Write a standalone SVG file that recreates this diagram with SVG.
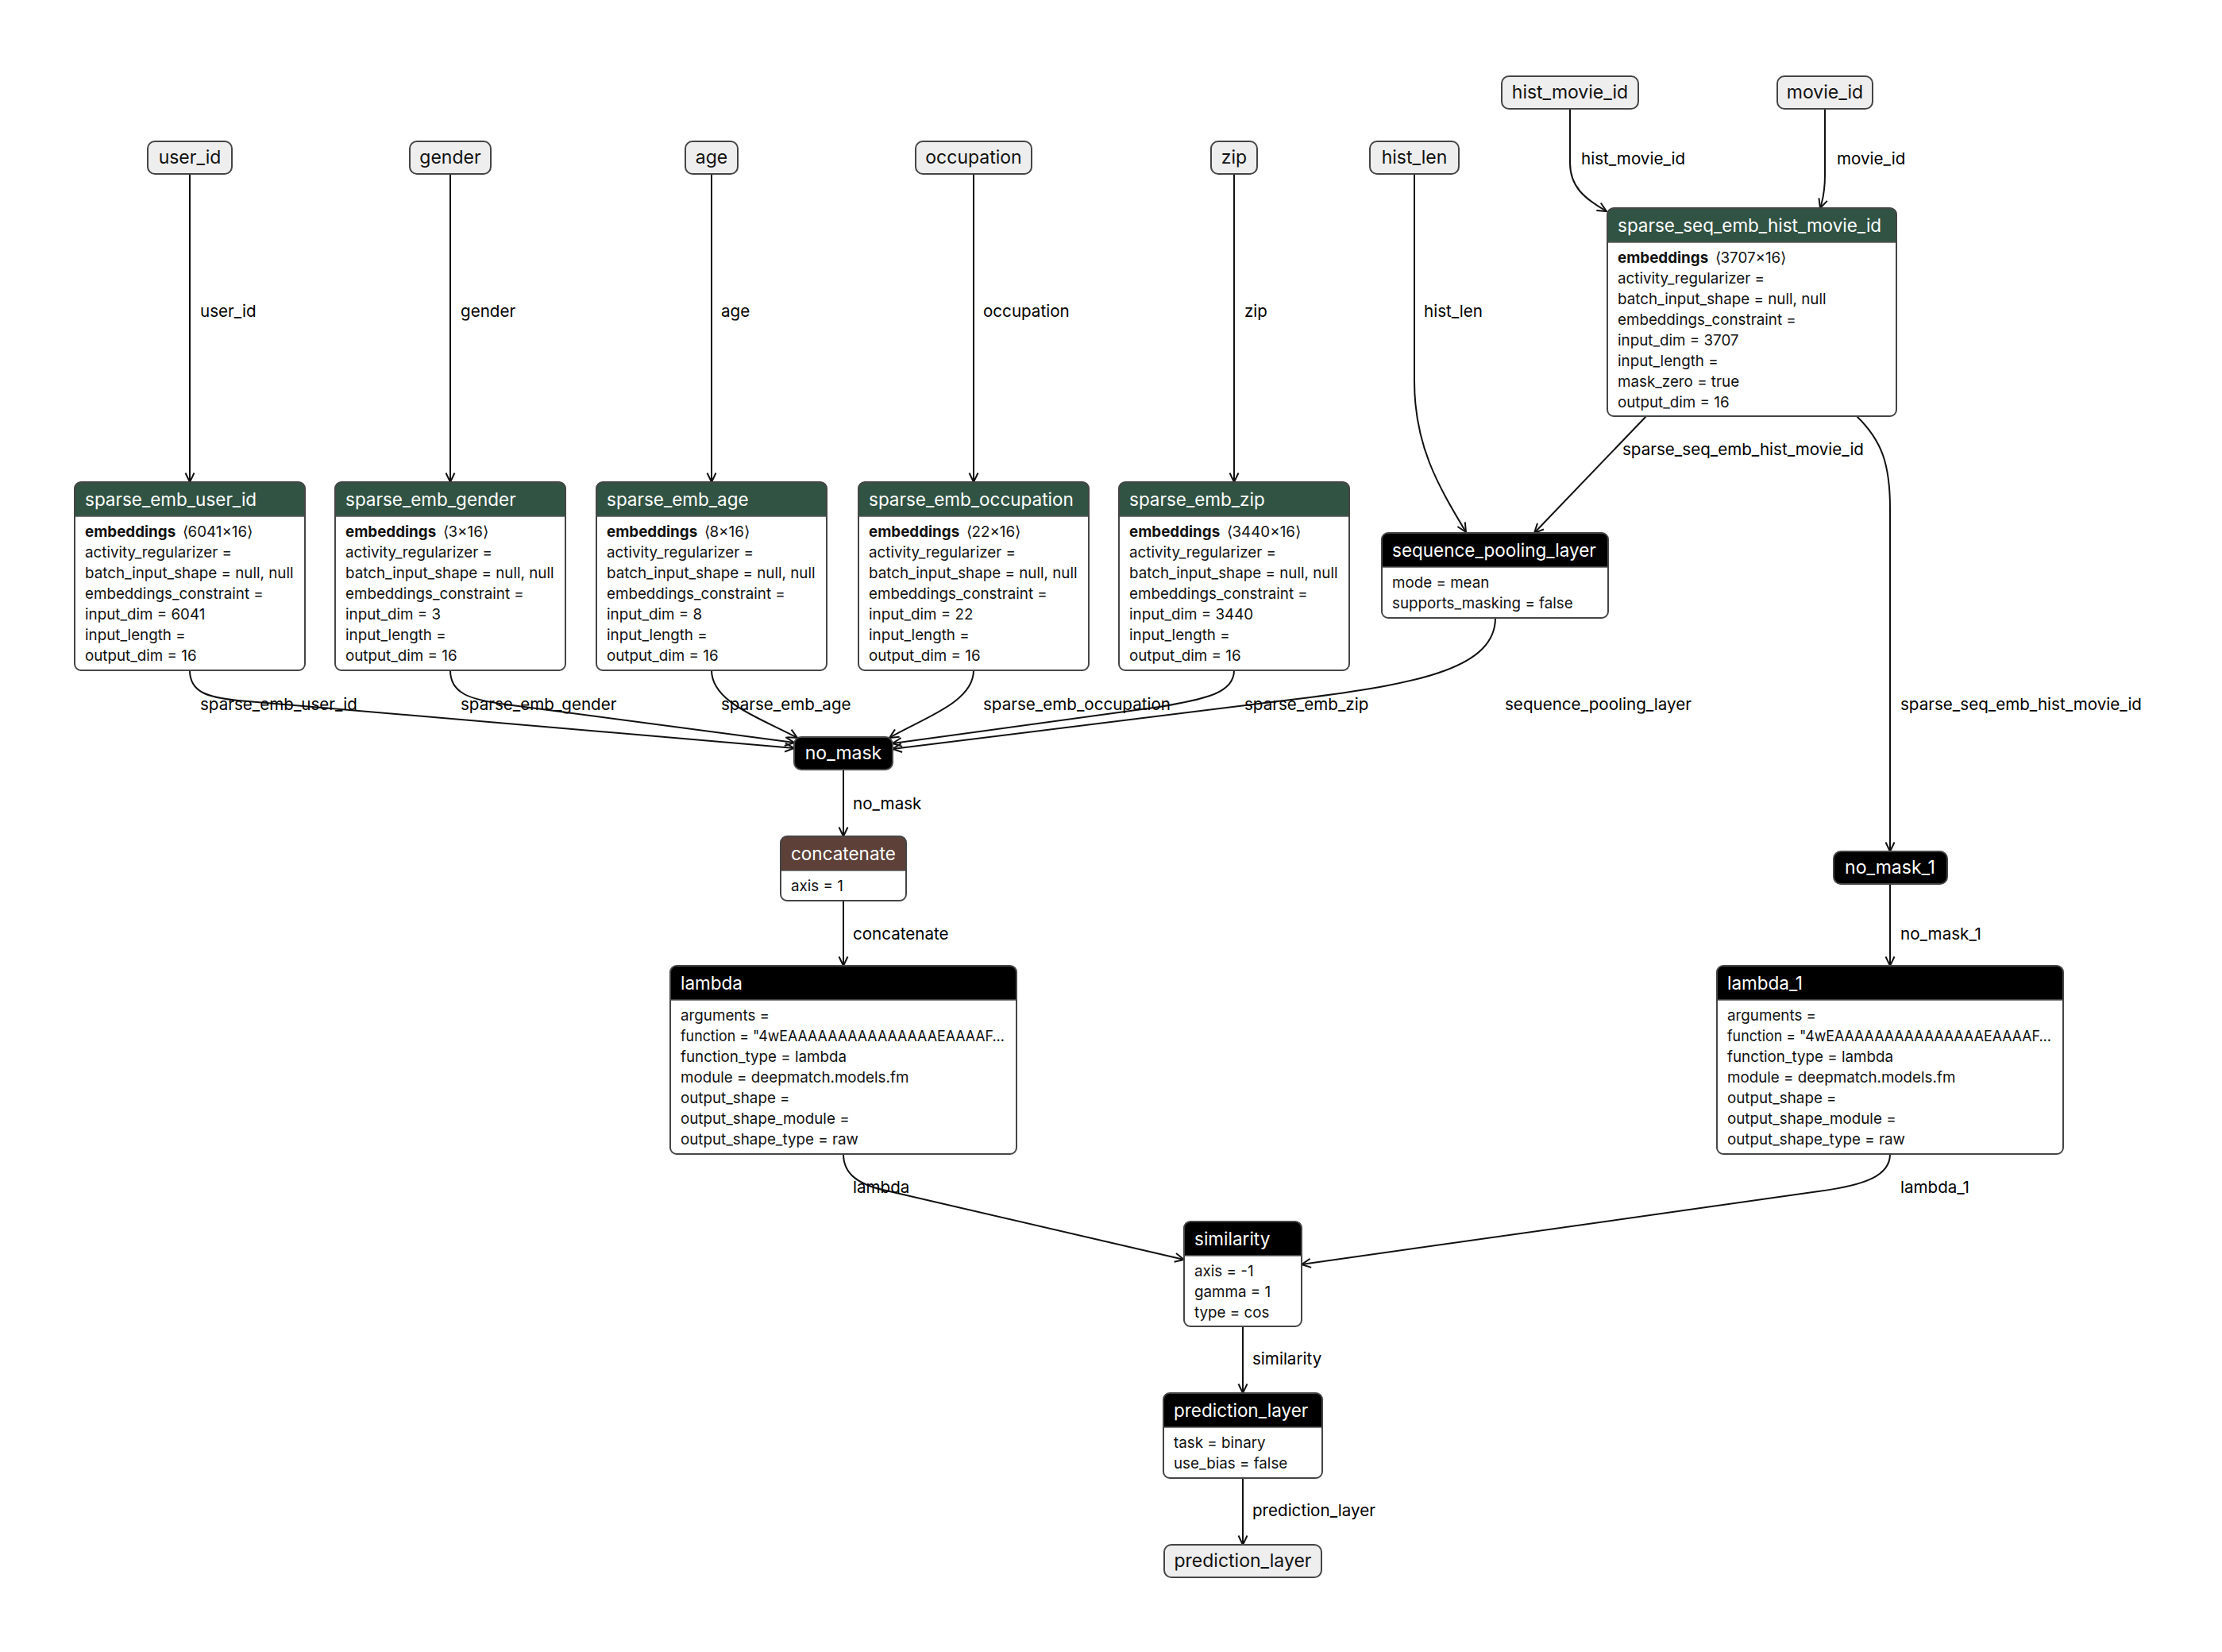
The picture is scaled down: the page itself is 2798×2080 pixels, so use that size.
<svg xmlns="http://www.w3.org/2000/svg" width="2798" height="2080" viewBox="0 0 2798 2080">
<defs>
<style>
text{font-family:Inter,"Liberation Sans",sans-serif}
.box{fill:#fff;stroke:none}
.frame{fill:none;stroke:#454545;stroke-width:2}
.sep{stroke:#555;stroke-width:1.5}
.pill{fill:#eeeeee;stroke:#454545;stroke-width:2}
.bpill{fill:#000;stroke:#454545;stroke-width:2}
.hg{fill:#315343}
.hk{fill:#000}
.hb{fill:#5d4037}
.ht{font-size:22.5px;fill:#fff}
.bt{font-size:18.8px;fill:#111}
.b{font-weight:bold}
.pt{font-size:23px;fill:#111;text-anchor:middle}
.wt{font-size:23px;fill:#fff;text-anchor:middle}
.el{font-size:20.6px;fill:#000}
.edge{fill:none;stroke:#111;stroke-width:2;marker-end:url(#arr)}
</style>
<marker id="arr" viewBox="0 0 14 14" refX="13" refY="7" markerWidth="14" markerHeight="14" markerUnits="userSpaceOnUse" orient="auto">
<path d="M1.5,1.5 L13,7 L1.5,12.5" fill="none" stroke="#111" stroke-width="2"/>
</marker>
</defs>
<rect width="2798" height="2080" fill="#fff"/>

<g id="edges">
<path class="edge" d="M239,219 V607"/>
<path class="edge" d="M567,219 V607"/>
<path class="edge" d="M896,219 V607"/>
<path class="edge" d="M1226,219 V607"/>
<path class="edge" d="M1554,219 V607"/>
<path class="edge" d="M1781,219 V480 C1781,560 1810,610 1846,670"/>
<path class="edge" d="M1977,137 V205 C1977,235 1995,250 2023,266"/>
<path class="edge" d="M2298,137 V220 C2298,240 2296,250 2292,262"/>
<path class="edge" d="M2073,524 L1932,671"/>
<path class="edge" d="M2338,524 C2370,555 2380,585 2380,640 V1072"/>
<path class="edge" d="M239,844 C239,872 262,878 300,882 L1000,942"/>
<path class="edge" d="M567,844 C567,872 590,880 630,886 L1000,935"/>
<path class="edge" d="M896,844 C896,885 960,905 1004,929"/>
<path class="edge" d="M1226,844 C1226,885 1160,905 1120,929"/>
<path class="edge" d="M1554,844 C1554,872 1520,880 1460,890 L1124,936"/>
<path class="edge" d="M1883,778 C1883,840 1790,860 1650,878 L1124,943"/>
<path class="edge" d="M1062,969 V1053"/>
<path class="edge" d="M1062,1134 V1216"/>
<path class="edge" d="M1062,1453 C1062,1478 1080,1492 1120,1500 L1491,1586"/>
<path class="edge" d="M2380,1113 V1216"/>
<path class="edge" d="M2380,1453 C2380,1480 2350,1492 2290,1500 L1639,1592"/>
<path class="edge" d="M1565,1670 V1754"/>
<path class="edge" d="M1565,1861 V1945"/>
</g>

<g id="edge-labels">
<text class="el" x="252" y="399">user_id</text>
<text class="el" x="580" y="399">gender</text>
<text class="el" x="908" y="399">age</text>
<text class="el" x="1238" y="399">occupation</text>
<text class="el" x="1567" y="399">zip</text>
<text class="el" x="1793" y="399">hist_len</text>
<text class="el" x="1991" y="207">hist_movie_id</text>
<text class="el" x="2313" y="207">movie_id</text>
<text class="el" x="2043" y="573">sparse_seq_emb_hist_movie_id</text>
<text class="el" x="252" y="894">sparse_emb_user_id</text>
<text class="el" x="580" y="894">sparse_emb_gender</text>
<text class="el" x="908" y="894">sparse_emb_age</text>
<text class="el" x="1238" y="894">sparse_emb_occupation</text>
<text class="el" x="1567" y="894">sparse_emb_zip</text>
<text class="el" x="1895" y="894">sequence_pooling_layer</text>
<text class="el" x="2393" y="894">sparse_seq_emb_hist_movie_id</text>
<text class="el" x="1074" y="1019">no_mask</text>
<text class="el" x="1074" y="1183">concatenate</text>
<text class="el" x="1074" y="1502">lambda</text>
<text class="el" x="2393" y="1183">no_mask_1</text>
<text class="el" x="2393" y="1502">lambda_1</text>
<text class="el" x="1577" y="1718">similarity</text>
<text class="el" x="1577" y="1909">prediction_layer</text>
</g>

<g id="in_user_id"><rect class="pill" x="186" y="178" width="106" height="41" rx="9"/><text class="pt" x="239" y="206">user_id</text></g>
<g id="in_gender"><rect class="pill" x="516" y="178" width="102" height="41" rx="9"/><text class="pt" x="567" y="206">gender</text></g>
<g id="in_age"><rect class="pill" x="863" y="178" width="66" height="41" rx="9"/><text class="pt" x="896" y="206">age</text></g>
<g id="in_occupation"><rect class="pill" x="1153" y="178" width="146" height="41" rx="9"/><text class="pt" x="1226" y="206">occupation</text></g>
<g id="in_zip"><rect class="pill" x="1525" y="178" width="58" height="41" rx="9"/><text class="pt" x="1554" y="206">zip</text></g>
<g id="in_hist_len"><rect class="pill" x="1725" y="178" width="112" height="41" rx="9"/><text class="pt" x="1781" y="206">hist_len</text></g>
<g id="in_hist_movie_id"><rect class="pill" x="1891" y="96" width="172" height="41" rx="9"/><text class="pt" x="1977" y="124">hist_movie_id</text></g>
<g id="in_movie_id"><rect class="pill" x="2238" y="96" width="120" height="41" rx="9"/><text class="pt" x="2298" y="124">movie_id</text></g>

<g id="sparse_emb_user_id">
<rect class="box" x="94" y="607" width="290" height="237" rx="8"/>
<path class="hg" d="M94,650 V615 Q94,607 102,607 H376 Q384,607 384,615 V650 Z"/>
<line class="sep" x1="94" y1="650" x2="384" y2="650"/>
<rect class="frame" x="94" y="607" width="290" height="237" rx="8"/>
<text class="ht" x="107" y="637">sparse_emb_user_id</text>
<text class="bt" x="107" y="676"><tspan class="b">embeddings</tspan> <tspan dx="3">⟨6041×16⟩</tspan></text>
<text class="bt" x="107" y="702">activity_regularizer =</text>
<text class="bt" x="107" y="728">batch_input_shape = null, null</text>
<text class="bt" x="107" y="754">embeddings_constraint =</text>
<text class="bt" x="107" y="780">input_dim = 6041</text>
<text class="bt" x="107" y="806">input_length =</text>
<text class="bt" x="107" y="832">output_dim = 16</text>
</g>

<g id="sparse_emb_gender">
<rect class="box" x="422" y="607" width="290" height="237" rx="8"/>
<path class="hg" d="M422,650 V615 Q422,607 430,607 H704 Q712,607 712,615 V650 Z"/>
<line class="sep" x1="422" y1="650" x2="712" y2="650"/>
<rect class="frame" x="422" y="607" width="290" height="237" rx="8"/>
<text class="ht" x="435" y="637">sparse_emb_gender</text>
<text class="bt" x="435" y="676"><tspan class="b">embeddings</tspan> <tspan dx="3">⟨3×16⟩</tspan></text>
<text class="bt" x="435" y="702">activity_regularizer =</text>
<text class="bt" x="435" y="728">batch_input_shape = null, null</text>
<text class="bt" x="435" y="754">embeddings_constraint =</text>
<text class="bt" x="435" y="780">input_dim = 3</text>
<text class="bt" x="435" y="806">input_length =</text>
<text class="bt" x="435" y="832">output_dim = 16</text>
</g>

<g id="sparse_emb_age">
<rect class="box" x="751" y="607" width="290" height="237" rx="8"/>
<path class="hg" d="M751,650 V615 Q751,607 759,607 H1033 Q1041,607 1041,615 V650 Z"/>
<line class="sep" x1="751" y1="650" x2="1041" y2="650"/>
<rect class="frame" x="751" y="607" width="290" height="237" rx="8"/>
<text class="ht" x="764" y="637">sparse_emb_age</text>
<text class="bt" x="764" y="676"><tspan class="b">embeddings</tspan> <tspan dx="3">⟨8×16⟩</tspan></text>
<text class="bt" x="764" y="702">activity_regularizer =</text>
<text class="bt" x="764" y="728">batch_input_shape = null, null</text>
<text class="bt" x="764" y="754">embeddings_constraint =</text>
<text class="bt" x="764" y="780">input_dim = 8</text>
<text class="bt" x="764" y="806">input_length =</text>
<text class="bt" x="764" y="832">output_dim = 16</text>
</g>

<g id="sparse_emb_occupation">
<rect class="box" x="1081" y="607" width="290" height="237" rx="8"/>
<path class="hg" d="M1081,650 V615 Q1081,607 1089,607 H1363 Q1371,607 1371,615 V650 Z"/>
<line class="sep" x1="1081" y1="650" x2="1371" y2="650"/>
<rect class="frame" x="1081" y="607" width="290" height="237" rx="8"/>
<text class="ht" x="1094" y="637">sparse_emb_occupation</text>
<text class="bt" x="1094" y="676"><tspan class="b">embeddings</tspan> <tspan dx="3">⟨22×16⟩</tspan></text>
<text class="bt" x="1094" y="702">activity_regularizer =</text>
<text class="bt" x="1094" y="728">batch_input_shape = null, null</text>
<text class="bt" x="1094" y="754">embeddings_constraint =</text>
<text class="bt" x="1094" y="780">input_dim = 22</text>
<text class="bt" x="1094" y="806">input_length =</text>
<text class="bt" x="1094" y="832">output_dim = 16</text>
</g>

<g id="sparse_emb_zip">
<rect class="box" x="1409" y="607" width="290" height="237" rx="8"/>
<path class="hg" d="M1409,650 V615 Q1409,607 1417,607 H1691 Q1699,607 1699,615 V650 Z"/>
<line class="sep" x1="1409" y1="650" x2="1699" y2="650"/>
<rect class="frame" x="1409" y="607" width="290" height="237" rx="8"/>
<text class="ht" x="1422" y="637">sparse_emb_zip</text>
<text class="bt" x="1422" y="676"><tspan class="b">embeddings</tspan> <tspan dx="3">⟨3440×16⟩</tspan></text>
<text class="bt" x="1422" y="702">activity_regularizer =</text>
<text class="bt" x="1422" y="728">batch_input_shape = null, null</text>
<text class="bt" x="1422" y="754">embeddings_constraint =</text>
<text class="bt" x="1422" y="780">input_dim = 3440</text>
<text class="bt" x="1422" y="806">input_length =</text>
<text class="bt" x="1422" y="832">output_dim = 16</text>
</g>

<g id="sparse_seq_emb_hist_movie_id">
<rect class="box" x="2024" y="262" width="364" height="262" rx="8"/>
<path class="hg" d="M2024,305 V270 Q2024,262 2032,262 H2380 Q2388,262 2388,270 V305 Z"/>
<line class="sep" x1="2024" y1="305" x2="2388" y2="305"/>
<rect class="frame" x="2024" y="262" width="364" height="262" rx="8"/>
<text class="ht" x="2037" y="292">sparse_seq_emb_hist_movie_id</text>
<text class="bt" x="2037" y="331"><tspan class="b">embeddings</tspan> <tspan dx="3">⟨3707×16⟩</tspan></text>
<text class="bt" x="2037" y="357">activity_regularizer =</text>
<text class="bt" x="2037" y="383">batch_input_shape = null, null</text>
<text class="bt" x="2037" y="409">embeddings_constraint =</text>
<text class="bt" x="2037" y="435">input_dim = 3707</text>
<text class="bt" x="2037" y="461">input_length =</text>
<text class="bt" x="2037" y="487">mask_zero = true</text>
<text class="bt" x="2037" y="513">output_dim = 16</text>
</g>

<g id="sequence_pooling_layer">
<rect class="box" x="1740" y="671" width="285" height="107" rx="8"/>
<path class="hk" d="M1740,714 V679 Q1740,671 1748,671 H2017 Q2025,671 2025,679 V714 Z"/>
<line class="sep" x1="1740" y1="714" x2="2025" y2="714"/>
<rect class="frame" x="1740" y="671" width="285" height="107" rx="8"/>
<text class="ht" x="1753" y="701">sequence_pooling_layer</text>
<text class="bt" x="1753" y="740">mode = mean</text>
<text class="bt" x="1753" y="766">supports_masking = false</text>
</g>

<g id="no_mask"><rect class="bpill" x="1000" y="928" width="124" height="41" rx="9"/><text class="wt" x="1062" y="956">no_mask</text></g>

<g id="concatenate">
<rect class="box" x="983" y="1053" width="158" height="81" rx="8"/>
<path class="hb" d="M983,1096 V1061 Q983,1053 991,1053 H1133 Q1141,1053 1141,1061 V1096 Z"/>
<line class="sep" x1="983" y1="1096" x2="1141" y2="1096"/>
<rect class="frame" x="983" y="1053" width="158" height="81" rx="8"/>
<text class="ht" x="996" y="1083">concatenate</text>
<text class="bt" x="996" y="1122">axis = 1</text>
</g>

<g id="lambda">
<rect class="box" x="844" y="1216" width="436" height="237" rx="8"/>
<path class="hk" d="M844,1259 V1224 Q844,1216 852,1216 H1272 Q1280,1216 1280,1224 V1259 Z"/>
<line class="sep" x1="844" y1="1259" x2="1280" y2="1259"/>
<rect class="frame" x="844" y="1216" width="436" height="237" rx="8"/>
<text class="ht" x="857" y="1246">lambda</text>
<text class="bt" x="857" y="1285">arguments =</text>
<text class="bt" x="857" y="1311" textLength="408" lengthAdjust="spacingAndGlyphs">function = "4wEAAAAAAAAAAAAAAAEAAAAF…</text>
<text class="bt" x="857" y="1337">function_type = lambda</text>
<text class="bt" x="857" y="1363">module = deepmatch.models.fm</text>
<text class="bt" x="857" y="1389">output_shape =</text>
<text class="bt" x="857" y="1415">output_shape_module =</text>
<text class="bt" x="857" y="1441">output_shape_type = raw</text>
</g>

<g id="no_mask_1"><rect class="bpill" x="2309" y="1072" width="143" height="41" rx="9"/><text class="wt" x="2380" y="1100">no_mask_1</text></g>

<g id="lambda_1">
<rect class="box" x="2162" y="1216" width="436" height="237" rx="8"/>
<path class="hk" d="M2162,1259 V1224 Q2162,1216 2170,1216 H2590 Q2598,1216 2598,1224 V1259 Z"/>
<line class="sep" x1="2162" y1="1259" x2="2598" y2="1259"/>
<rect class="frame" x="2162" y="1216" width="436" height="237" rx="8"/>
<text class="ht" x="2175" y="1246">lambda_1</text>
<text class="bt" x="2175" y="1285">arguments =</text>
<text class="bt" x="2175" y="1311" textLength="408" lengthAdjust="spacingAndGlyphs">function = "4wEAAAAAAAAAAAAAAAEAAAAF…</text>
<text class="bt" x="2175" y="1337">function_type = lambda</text>
<text class="bt" x="2175" y="1363">module = deepmatch.models.fm</text>
<text class="bt" x="2175" y="1389">output_shape =</text>
<text class="bt" x="2175" y="1415">output_shape_module =</text>
<text class="bt" x="2175" y="1441">output_shape_type = raw</text>
</g>

<g id="similarity">
<rect class="box" x="1491" y="1538" width="148" height="132" rx="8"/>
<path class="hk" d="M1491,1581 V1546 Q1491,1538 1499,1538 H1631 Q1639,1538 1639,1546 V1581 Z"/>
<line class="sep" x1="1491" y1="1581" x2="1639" y2="1581"/>
<rect class="frame" x="1491" y="1538" width="148" height="132" rx="8"/>
<text class="ht" x="1504" y="1568">similarity</text>
<text class="bt" x="1504" y="1607">axis = -1</text>
<text class="bt" x="1504" y="1633">gamma = 1</text>
<text class="bt" x="1504" y="1659">type = cos</text>
</g>

<g id="prediction_layer">
<rect class="box" x="1465" y="1754" width="200" height="107" rx="8"/>
<path class="hk" d="M1465,1797 V1762 Q1465,1754 1473,1754 H1657 Q1665,1754 1665,1762 V1797 Z"/>
<line class="sep" x1="1465" y1="1797" x2="1665" y2="1797"/>
<rect class="frame" x="1465" y="1754" width="200" height="107" rx="8"/>
<text class="ht" x="1478" y="1784">prediction_layer</text>
<text class="bt" x="1478" y="1823">task = binary</text>
<text class="bt" x="1478" y="1849">use_bias = false</text>
</g>

<g id="out_prediction_layer"><rect class="pill" x="1466" y="1945" width="198" height="41" rx="9"/><text class="pt" x="1565" y="1973">prediction_layer</text></g>
</svg>
